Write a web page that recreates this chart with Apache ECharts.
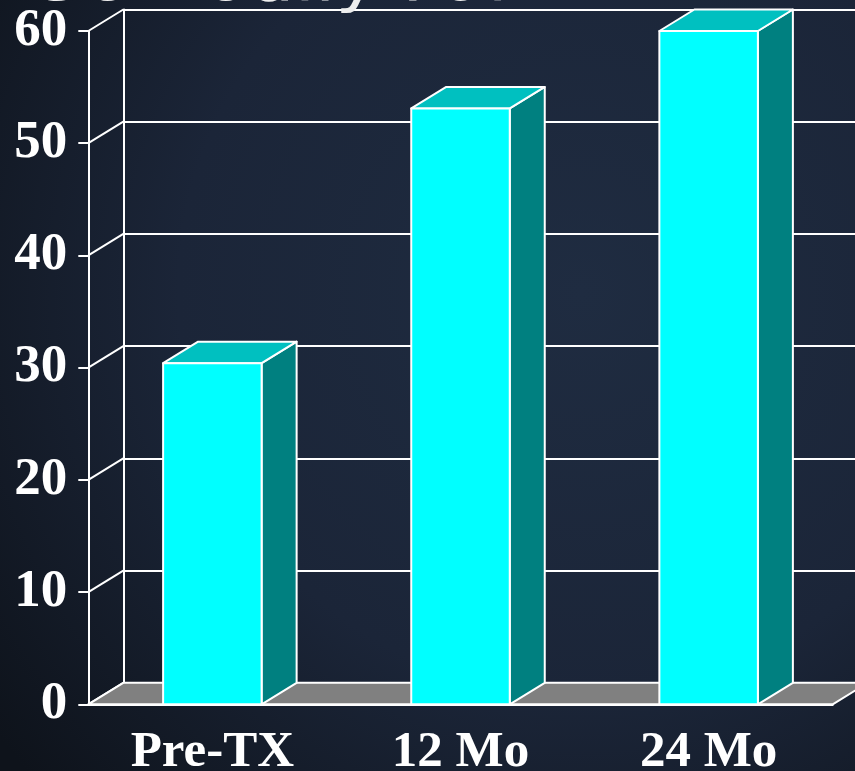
<!DOCTYPE html>
<html>
<head>
<meta charset="utf-8">
<style>
  html, body { margin: 0; padding: 0; background: #1b2538; }
  #chart { width: 855px; height: 771px; }
</style>
<script src="https://cdn.jsdelivr.net/npm/echarts@6/dist/echarts.min.js"></script>
</head>
<body>
<div id="chart"></div>
<script>
// Chart data
const categories = ['Pre-TX', '12 Mo', '24 Mo'];
const painScores = [30.4, 53.1, 60];
const yTicks = [0, 10, 20, 30, 40, 50, 60];
const titleText = '36 Bodily Pain';

// Depth offset of the 3D look (back wall vs. front plane), in pixels
const DX = 35;
const DY = 21.5;

const GRID_LEFT = 88.3;
const GRID_TOP = 31;
const GRID_W = 744.4;
const GRID_H = 673.3;

const labelFont = {
  color: '#ffffff',
  fontFamily: '"Liberation Serif", "Times New Roman", serif',
  fontWeight: 'bold'
};

const chart = echarts.init(document.getElementById('chart'), null, { renderer: 'canvas' });

// Diagonal connectors from each front tick to the back wall
function renderDepthLine(params, api) {
  const cs = params.coordSys;
  const y = api.coord([0, api.value(1)])[1];
  return {
    type: 'line',
    shape: { x1: cs.x, y1: y, x2: cs.x + DX, y2: y - DY },
    style: { stroke: '#ffffff', lineWidth: 2 }
  };
}

// Grey floor under the bars
function renderFloor(params, api) {
  const cs = params.coordSys;
  const y0 = api.coord([0, 0])[1];
  return {
    type: 'polygon',
    shape: {
      points: [
        [cs.x, y0],
        [cs.x + cs.width, y0],
        [cs.x + cs.width + DX, y0 - DY],
        [cs.x + DX, y0 - DY]
      ]
    },
    style: { fill: '#808080', stroke: '#ffffff', lineWidth: 2, lineJoin: 'round' }
  };
}

// Box-shaped bar: front, top and right side faces
function renderBox(params, api) {
  const idx = api.value(0);
  const top = api.coord([idx, api.value(1)]);
  const base = api.coord([idx, 0]);
  const half = api.size([1, 0])[0] * 0.397 / 2;
  const xl = top[0] - half;
  const xr = top[0] + half;
  const yt = top[1];
  const yb = base[1];
  const edge = { stroke: '#ffffff', lineWidth: 2, lineJoin: 'round' };
  return {
    type: 'group',
    children: [
      {
        type: 'polygon',
        shape: { points: [[xr, yt], [xr + DX, yt - DY], [xr + DX, yb - DY], [xr, yb]] },
        style: Object.assign({ fill: '#008080' }, edge)
      },
      {
        type: 'polygon',
        shape: { points: [[xl, yt], [xl + DX, yt - DY], [xr + DX, yt - DY], [xr, yt]] },
        style: Object.assign({ fill: '#00c0c0' }, edge)
      },
      {
        type: 'polygon',
        shape: { points: [[xl, yt], [xr, yt], [xr, yb], [xl, yb]] },
        style: Object.assign({ fill: '#00ffff' }, edge)
      }
    ]
  };
}

const option = {
  animation: false,
  backgroundColor: {
    type: 'radial',
    x: 0.68, y: 0.38, r: 0.95,
    colorStops: [
      { offset: 0, color: '#1f2c41' },
      { offset: 0.55, color: '#1b2538' },
      { offset: 1, color: '#0e131b' }
    ]
  },
  graphic: [
    {
      type: 'text',
      left: 37,
      top: -47,
      scaleX: 1.18,
      z: 10,
      style: {
        text: titleText,
        fill: '#eeeeee',
        fontFamily: '"DejaVu Sans", Verdana, sans-serif',
        fontSize: 62
      }
    }
  ],
  grid: [
    { left: GRID_LEFT, top: GRID_TOP, width: GRID_W, height: GRID_H, containLabel: false, outerBoundsMode: 'none' },
    { left: GRID_LEFT + DX, top: GRID_TOP - DY, width: 900, height: GRID_H, containLabel: false, outerBoundsMode: 'none' }
  ],
  xAxis: [
    {
      gridIndex: 0,
      type: 'category',
      data: categories,
      axisLine: { lineStyle: { color: '#ffffff', width: 2 } },
      axisTick: { length: 10, lineStyle: { color: '#ffffff', width: 2 } },
      axisLabel: Object.assign({ fontSize: 51, margin: 23 }, labelFont),
      splitLine: { show: false }
    },
    { gridIndex: 1, type: 'value', min: 0, max: 1, show: false }
  ],
  yAxis: [
    {
      gridIndex: 0,
      type: 'value',
      min: 0,
      max: 60,
      interval: 10,
      axisLine: { show: true, lineStyle: { color: '#ffffff', width: 2 } },
      axisTick: { show: true, length: 10, lineStyle: { color: '#ffffff', width: 2 } },
      axisLabel: Object.assign({ fontSize: 53, margin: 21 }, labelFont),
      splitLine: { show: false }
    },
    {
      gridIndex: 1,
      type: 'value',
      min: 0,
      max: 60,
      interval: 10,
      axisLine: { show: true, lineStyle: { color: '#ffffff', width: 2 } },
      axisTick: { show: false },
      axisLabel: { show: false },
      splitLine: { show: true, lineStyle: { color: '#ffffff', width: 2 } }
    }
  ],
  series: [
    {
      type: 'custom',
      xAxisIndex: 0,
      yAxisIndex: 0,
      clip: false,
      z: 1,
      silent: true,
      renderItem: renderDepthLine,
      data: yTicks.map(v => [0, v])
    },
    {
      type: 'custom',
      xAxisIndex: 0,
      yAxisIndex: 0,
      clip: false,
      z: 2,
      silent: true,
      renderItem: renderFloor,
      data: [[0, 0]]
    },
    {
      type: 'custom',
      name: 'Bodily Pain',
      xAxisIndex: 0,
      yAxisIndex: 0,
      clip: false,
      z: 3,
      renderItem: renderBox,
      data: painScores.map((v, i) => [i, v])
    }
  ]
};

chart.setOption(option);
</script>
</body>
</html>
